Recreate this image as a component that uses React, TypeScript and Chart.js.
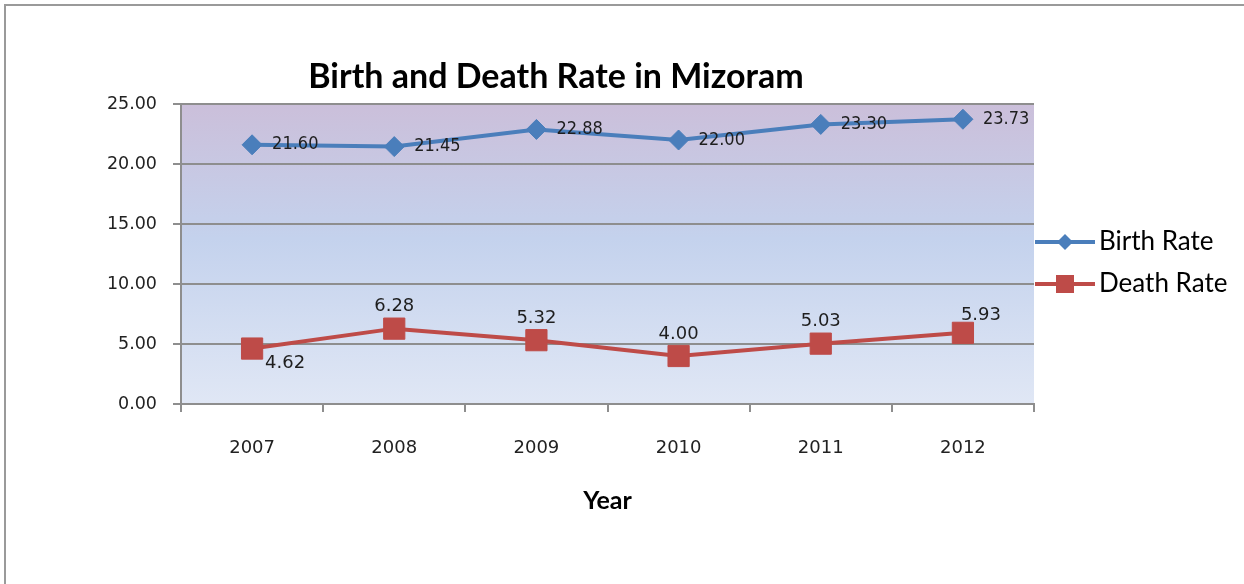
import React, { useEffect, useRef } from 'react';
import { Chart, registerables } from 'chart.js';

Chart.register(...registerables);

const years = ['2007', '2008', '2009', '2010', '2011', '2012'];
const birthRate = [21.6, 21.45, 22.88, 22.0, 23.3, 23.73];
const deathRate = [4.62, 6.28, 5.32, 4.0, 5.03, 5.93];
const yTickValues = [0, 5, 10, 15, 20, 25];

const TITLE = 'Birth and Death Rate in Mizoram';
const BLUE = '#4a7ebb';
const RED = '#be4b48';

const birthLabelPos = ['right', 'right', 'right', 'right', 'right', 'right'];
const deathLabelPos = ['belowRight', 'above', 'above', 'above', 'above', 'aboveRight'];

const decorPlugin = {
  id: 'decor',
  beforeDraw(chart: any) {
    const { ctx, chartArea } = chart;
    ctx.save();
    // page frame (top and left only)
    ctx.strokeStyle = '#9a9a9a';
    ctx.lineWidth = 2;
    ctx.beginPath();
    ctx.moveTo(5, 584);
    ctx.lineTo(5, 5);
    ctx.lineTo(1244, 5);
    ctx.stroke();
    // plot gradient
    const g = ctx.createLinearGradient(0, chartArea.top, 0, chartArea.bottom);
    g.addColorStop(0, '#cbbfda');
    g.addColorStop(0.45, '#c4d2ed');
    g.addColorStop(1, '#e0e7f5');
    ctx.fillStyle = g;
    ctx.fillRect(chartArea.left, chartArea.top, chartArea.right - chartArea.left, chartArea.bottom - chartArea.top);
    // title
    ctx.fillStyle = '#000';
    ctx.font = 'bold 34px Lato';
    ctx.textAlign = 'center';
    ctx.textBaseline = 'middle';
    ctx.fillText(TITLE, 556, 77);
    ctx.restore();
  },
  afterDatasetsDraw(chart: any) {
    const { ctx } = chart;
    ctx.save();
    ctx.fillStyle = '#1e1e1e';
    ctx.textBaseline = 'middle';
    chart.data.datasets.forEach((ds: any, di: number) => {
      const meta = chart.getDatasetMeta(di);
      const posArr = di === 0 ? birthLabelPos : deathLabelPos;
      ctx.font = di === 0 ? '18px "DejaVu Sans Condensed", "DejaVu Sans"' : '18px "DejaVu Sans"';
      meta.data.forEach((pt: any, i: number) => {
        const text = Number(ds.data[i]).toFixed(2);
        const pos = posArr[i];
        let x = pt.x;
        let y = pt.y;
        if (pos === 'right') {
          ctx.textAlign = 'left';
          x += 20;
        } else if (pos === 'above') {
          ctx.textAlign = 'center';
          y -= 22;
        } else if (pos === 'belowRight') {
          ctx.textAlign = 'center';
          x += 33;
          y += 15;
        } else if (pos === 'aboveRight') {
          ctx.textAlign = 'center';
          x += 18;
          y -= 18;
        }
        ctx.fillText(text, x, y);
      });
    });
    ctx.restore();
  },
  afterDraw(chart: any) {
    const { ctx, chartArea } = chart;
    ctx.save();
    const x0 = chartArea.right + 1;
    const rows = [242, 284];
    chart.data.datasets.forEach((ds: any, di: number) => {
      const y = rows[di];
      ctx.strokeStyle = ds.borderColor;
      ctx.lineWidth = 4;
      ctx.beginPath();
      ctx.moveTo(x0, y);
      ctx.lineTo(x0 + 60, y);
      ctx.stroke();
      ctx.fillStyle = ds.backgroundColor;
      const cx = x0 + 30;
      ctx.beginPath();
      if (di === 0) {
        ctx.moveTo(cx, y - 8);
        ctx.lineTo(cx + 8, y);
        ctx.lineTo(cx, y + 8);
        ctx.lineTo(cx - 8, y);
        ctx.closePath();
      } else {
        ctx.rect(cx - 9, y - 9, 18, 18);
      }
      ctx.fill();
      ctx.fillStyle = '#000';
      ctx.font = '26px Lato';
      ctx.textAlign = 'left';
      ctx.textBaseline = 'middle';
      ctx.fillText(ds.label, x0 + 64, y);
    });
    ctx.restore();
  },
};

export default function App() {
  const ref = useRef<HTMLCanvasElement | null>(null);

  useEffect(() => {
    if (!ref.current) return;
    const chart = new Chart(ref.current, {
      type: 'line',
      data: {
        labels: years,
        datasets: [
          {
            label: 'Birth Rate',
            data: birthRate,
            borderColor: BLUE,
            backgroundColor: BLUE,
            borderWidth: 4,
            pointStyle: 'rectRot',
            pointRadius: 10,
            pointBorderWidth: 1,
            tension: 0,
          },
          {
            label: 'Death Rate',
            data: deathRate,
            borderColor: RED,
            backgroundColor: RED,
            borderWidth: 4,
            pointStyle: 'rect',
            pointRadius: 15,
            pointBorderWidth: 1,
            tension: 0,
          },
        ],
      },
      options: {
        responsive: false,
        animation: false,
        layout: { padding: { top: 104, right: 210, bottom: 68.4, left: 0 } },
        plugins: {
          legend: { display: false },
          title: { display: false },
          tooltip: { enabled: false },
        },
        scales: {
          x: {
            type: 'category',
            offset: true,
            grid: {
              offset: true,
              drawOnChartArea: false,
              drawTicks: true,
              tickLength: 8,
              color: '#8e8e8e',
              lineWidth: 2,
            },
            border: { display: true, color: '#8e8e8e', width: 2 },
            ticks: {
              color: '#222',
              font: { family: 'DejaVu Sans', size: 18 },
              padding: 26,
              maxRotation: 0,
            },
            title: {
              display: true,
              text: 'Year',
              color: '#000',
              font: { family: 'Lato', size: 25, weight: 'bold' },
              padding: { top: 0, bottom: 0 },
            },
          },
          y: {
            min: 0,
            max: 25,
            afterFit(scale: any) {
              scale.width = 181;
            },
            afterBuildTicks(scale: any) {
              scale.ticks = yTickValues.map((v) => ({ value: v }));
            },
            grid: {
              color: '#8e8e8e',
              lineWidth: 2,
              drawTicks: true,
              tickLength: 8,
            },
            border: { display: true, color: '#8e8e8e', width: 2 },
            ticks: {
              color: '#222',
              font: { family: 'DejaVu Sans', size: 17.5 },
              padding: 16,
              callback: (v: any) => Number(v).toFixed(2),
            },
          },
        },
      },
      plugins: [decorPlugin],
    });
    return () => chart.destroy();
  }, []);

  return (
    <div style={{ position: 'fixed', left: 0, top: 0, width: 1244, height: 584, background: '#fff' }}>
      <canvas ref={ref} width={1244} height={584} style={{ display: 'block', width: 1244, height: 584 }} />
    </div>
  );
}
